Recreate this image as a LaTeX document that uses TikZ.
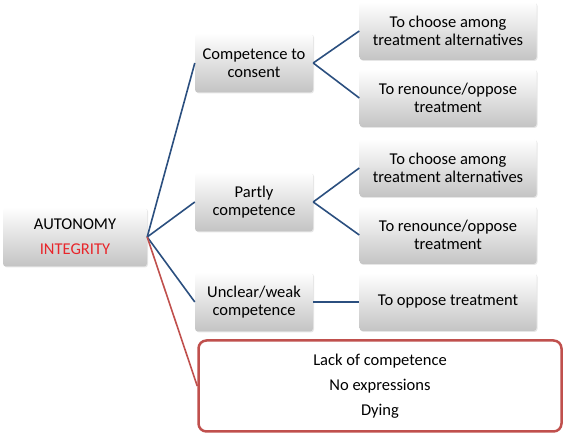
\documentclass[tikz,border=0pt]{standalone}
\usepackage{fontspec}
\setmainfont{Carlito}
\usepackage{xcolor}
\definecolor{Navy}{HTML}{2B4F7F}
\definecolor{Brick}{HTML}{C0504D}
\definecolor{Signal}{HTML}{E8262B}
\definecolor{Shade}{HTML}{C4C4C4}
\colorlet{navy}{Navy}
\colorlet{brick}{Brick}
\colorlet{signal}{Signal}
\colorlet{shade}{Shade}
\usepackage{tikz}
\usetikzlibrary{positioning,shadows}

\begin{document}
\begin{tikzpicture}[x=1pt,y=-1pt,every node/.style={font=\fontsize{16.5}{18}\selectfont,align=center,inner sep=0pt},
box/.style={rounded corners=3pt,top color=white,bottom color=shade,drop shadow={opacity=0.2,shadow xshift=1pt,shadow yshift=-1pt}},
midbox/.style={box,minimum width=118pt,minimum height=59pt},
leafbox/.style={box,minimum width=177pt,minimum height=58pt},
link/.style={navy,line width=1.6pt},
redlink/.style={brick,line width=1.6pt}]
\useasboundingbox (0,0) rectangle (563,435);
\node[box,minimum width=144pt,minimum height=59pt] (root) at (75,237) {AUTONOMY\\[7pt]\textcolor{signal}{INTEGRITY}};
\node[midbox] (consent) at (254,63) {Competence to\\consent};
\node[midbox] (partly) at (254,202) {Partly\\competence};
\node[midbox] (unclear) at (254,302) {Unclear/weak\\competence};
\node[leafbox] (choosea) at (448,31) {To choose among\\treatment alternatives};
\node[leafbox] (renouncea) at (448,98) {To renounce/oppose\\treatment};
\node[leafbox] (chooseb) at (448,168) {To choose among\\treatment alternatives};
\node[leafbox] (renounceb) at (448,235) {To renounce/oppose\\treatment};
\node[leafbox] (oppose) at (448,302) {To oppose treatment};
\node[draw=brick,line width=2.5pt,rounded corners=8pt,fill=white,minimum width=363pt,minimum height=91pt] (lack) at (380,386) {Lack of competence\\[7pt]No expressions\\[7pt]Dying};
\draw[link] (root.east)--(consent.west);\draw[link] (root.east)--(partly.west);\draw[link] (root.east)--(unclear.west);
\draw[redlink] (root.east)--(lack.west);
\draw[link] (consent.east)--(choosea.west);\draw[link] (consent.east)--(renouncea.west);
\draw[link] (partly.east)--(chooseb.west);\draw[link] (partly.east)--(renounceb.west);
\draw[link] (unclear.east)--(oppose.west);
\end{tikzpicture}
\end{document}
